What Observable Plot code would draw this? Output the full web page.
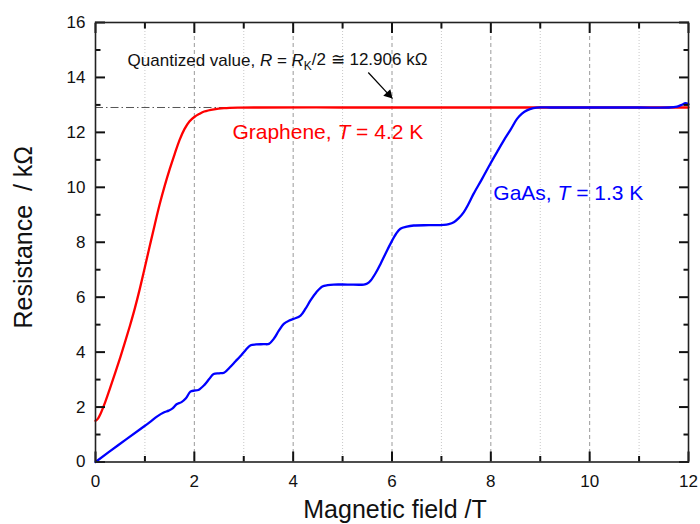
<!DOCTYPE html>
<html>
<head>
<meta charset="utf-8">
<script src="https://cdn.jsdelivr.net/npm/d3@7"></script>
<script src="https://cdn.jsdelivr.net/npm/@observablehq/plot@0.6"></script>
<style>
  html, body { margin: 0; padding: 0; background: #fff; }
  #chart svg { display: block; font-family: "Liberation Sans", Arial, sans-serif; }
</style>
</head>
<body>
<div id="chart"></div>
<script>
// ---- Data ----
const grapheneB = [0, 0.05, 0.1, 0.2, 0.3, 0.4, 0.5, 0.6, 0.7, 0.8,
  0.9, 1.0, 1.1, 1.2, 1.3, 1.4, 1.5, 1.6, 1.7, 1.8,
  1.9, 2.0, 2.1, 2.2, 2.4, 2.6, 2.9, 3.3, 5, 7, 9, 12];
const grapheneR = [1.5, 1.58, 1.75, 2.2, 2.72, 3.25, 3.8, 4.38, 4.98, 5.62,
  6.33, 7.1, 7.88, 8.65, 9.39, 10.05, 10.65, 11.2, 11.72, 12.12,
  12.4, 12.56, 12.67, 12.76, 12.84, 12.88, 12.9, 12.906, 12.906, 12.906, 12.906, 12.906];

const gaasB = [0, 0.45, 0.91, 1.1, 1.25, 1.38, 1.48, 1.56, 1.64, 1.74,
  1.83, 1.92, 2.0, 2.08, 2.2, 2.3, 2.39, 2.5, 2.6, 2.72,
  2.83, 2.93, 3.04, 3.14, 3.25, 3.4, 3.51, 3.61, 3.71, 3.81,
  3.92, 4.01, 4.15, 4.25, 4.35, 4.47, 4.59, 4.7, 4.82, 5.1,
  5.43, 5.5, 5.57, 5.67, 5.77, 5.9, 6.0, 6.08, 6.17, 6.3,
  6.44, 6.75, 7.05, 7.15, 7.25, 7.35, 7.45, 7.55, 7.65, 7.82,
  7.99, 8.13, 8.26, 8.4, 8.53, 8.63, 8.73, 8.86, 9.0, 9.2,
  9.5, 10, 11, 11.6, 11.77, 11.86, 11.94, 12];
const gaasR = [0, 0.6, 1.2, 1.45, 1.66, 1.8, 1.87, 1.95, 2.1, 2.18,
  2.32, 2.56, 2.6, 2.62, 2.8, 3.02, 3.2, 3.23, 3.25, 3.45,
  3.66, 3.85, 4.08, 4.25, 4.28, 4.29, 4.3, 4.49, 4.78, 5.03,
  5.15, 5.21, 5.33, 5.58, 5.88, 6.18, 6.39, 6.44, 6.46, 6.46,
  6.46, 6.5, 6.61, 6.88, 7.22, 7.7, 8.05, 8.3, 8.49, 8.57,
  8.61, 8.62, 8.63, 8.66, 8.73, 8.88, 9.09, 9.4, 9.76, 10.3,
  10.86, 11.3, 11.7, 12.1, 12.49, 12.68, 12.8, 12.88, 12.91, 12.906,
  12.906, 12.906, 12.906, 12.906, 12.94, 13.0, 13.06, 13.02];

const quantizedValue = 12.906;
const xMajorTicks = [0, 2, 4, 6, 8, 10, 12];
const xMinorTicks = [1, 3, 5, 7, 9, 11];
const yMajorTicks = [0, 2, 4, 6, 8, 10, 12, 14, 16];
const yMinorTicks = [1, 3, 5, 7, 9, 11, 13, 15];

const xLabel = "Magnetic field /T";
const yLabel = "Resistance  / kΩ";
const noteText = "Quantized value, R = RK/2 ≅ 12.906 kΩ";
const grapheneText = "Graphene, T = 4.2 K";
const gaasText = "GaAs, T = 1.3 K";
// annotation anchor positions (data units)
const notePos = {x: 0.65, y: 14.63};
const graphenePos = {x: 2.77, y: 11.99};
const gaasPos = {x: 8.05, y: 9.8};
const arrowSeg = {x1: 5.52, y1: 14.18, x2: 6.01, y2: 13.23};

// ---- Build tables ----
const graphene = grapheneB.map((b, i) => ({B: b, R: grapheneR[i]}));
const gaas = gaasB.map((b, i) => ({B: b, R: gaasR[i]}));

const font = "'Liberation Sans', Arial, sans-serif";
const axisColor = "#111";
const majorLen = 10, minorLen = 5.5;
const tickOpts = (anchor, ticks, len) => ({
  anchor, ticks, tickSize: -len, tickFormat: () => "", label: null,
  stroke: axisColor, strokeWidth: 2
});

const chart = Plot.plot({
  width: 700,
  height: 524,
  marginLeft: 95,
  marginRight: 12,
  marginTop: 22,
  marginBottom: 62.5,
  style: {fontFamily: font, background: "#fff", overflow: "visible"},
  x: {domain: [0, 12]},
  y: {domain: [0, 16]},
  marks: [
    // grid
    Plot.gridX(xMinorTicks, {stroke: "#c8c8c8", strokeOpacity: 1, strokeDasharray: "1,2", strokeWidth: 1}),
    Plot.gridX(xMajorTicks.slice(1, -1), {stroke: "#9a9a9a", strokeOpacity: 1, strokeDasharray: "4,3", strokeWidth: 1}),
    // quantized line
    Plot.ruleY([quantizedValue], {x1: 0, x2: 12, stroke: "#555", strokeDasharray: "8,3,1.5,3", strokeWidth: 1}),
    // curves
    Plot.line(graphene, {x: "B", y: "R", stroke: "#ff0000", strokeWidth: 2.3, curve: "catmull-rom"}),
    Plot.line(gaas, {x: "B", y: "R", stroke: "#0000ff", strokeWidth: 2.3, curve: "catmull-rom"}),
    // inward tick marks on all four sides
    Plot.axisX(tickOpts("bottom", xMajorTicks, majorLen)),
    Plot.axisX(tickOpts("bottom", xMinorTicks, minorLen)),
    Plot.axisX(tickOpts("top", xMajorTicks, majorLen)),
    Plot.axisX(tickOpts("top", xMinorTicks, minorLen)),
    Plot.axisY(tickOpts("left", yMajorTicks, majorLen)),
    Plot.axisY(tickOpts("left", yMinorTicks, minorLen)),
    Plot.axisY(tickOpts("right", yMajorTicks, majorLen)),
    Plot.axisY(tickOpts("right", yMinorTicks, minorLen)),
    // frame
    Plot.frame({stroke: "#222", strokeWidth: 1.6}),
    // axes: tick labels
    Plot.axisX({ticks: xMajorTicks, tickSize: 0, tickPadding: 13, fontSize: 17, label: null, color: "#111"}),
    Plot.axisY({ticks: yMajorTicks, tickSize: 0, tickPadding: 10, fontSize: 17, label: null, color: "#111"}),
    // axis titles
    Plot.text([xLabel], {frameAnchor: "bottom", text: d => d, fontSize: 25, textAnchor: "middle", lineAnchor: "middle", dx: 3, dy: 48, fill: "#111"}),
    Plot.text([yLabel], {frameAnchor: "left", text: d => d, fontSize: 25, textAnchor: "middle", lineAnchor: "middle", rotate: -90, dx: -72, dy: -5, fill: "#111"}),
    // annotations
    Plot.text([notePos], {x: "x", y: "y", text: () => noteText, textAnchor: "start", fontSize: 17, fill: "#111"}),
    Plot.link([arrowSeg], {x1: "x1", y1: "y1", x2: "x2", y2: "y2", stroke: "#000", strokeWidth: 1.2}),
    Plot.dot([arrowSeg], {x: "x2", y: "y2", symbol: "triangle", r: 3.6, fill: "#000", stroke: "none", rotate: 137, dx: -3.8, dy: -4.1}),
    Plot.text([graphenePos], {x: "x", y: "y", text: () => grapheneText, textAnchor: "start", fontSize: 21, fill: "#ff0000"}),
    Plot.text([gaasPos], {x: "x", y: "y", text: () => gaasText, textAnchor: "start", fontSize: 21, fill: "#0000ff"})
  ]
});

document.getElementById("chart").appendChild(chart);

// ---- Rich text: italic symbols and subscript ----
const NS = "http://www.w3.org/2000/svg";
function rich(textEl, parts) {
  while (textEl.firstChild) textEl.removeChild(textEl.firstChild);
  for (const p of parts) {
    const t = document.createElementNS(NS, "tspan");
    t.textContent = p.t;
    if (p.i) t.setAttribute("font-style", "italic");
    if (p.sub) { t.setAttribute("font-size", "70%"); t.setAttribute("dy", "0.35em"); }
    if (p.up) { t.setAttribute("dy", "-0.25em"); }
    textEl.appendChild(t);
  }
}
chart.querySelectorAll("text").forEach(el => {
  const s = el.textContent;
  if (s === noteText) {
    rich(el, [{t: "Quantized value, "}, {t: "R", i: true}, {t: " = "}, {t: "R", i: true},
      {t: "K", sub: true}, {t: "/2 ≅ 12.906 kΩ", up: true}]);
  } else if (s === grapheneText) {
    rich(el, [{t: "Graphene, "}, {t: "T", i: true}, {t: " = 4.2 K"}]);
  } else if (s === gaasText) {
    rich(el, [{t: "GaAs, "}, {t: "T", i: true}, {t: " = 1.3 K"}]);
  }
});
</script>
</body>
</html>
